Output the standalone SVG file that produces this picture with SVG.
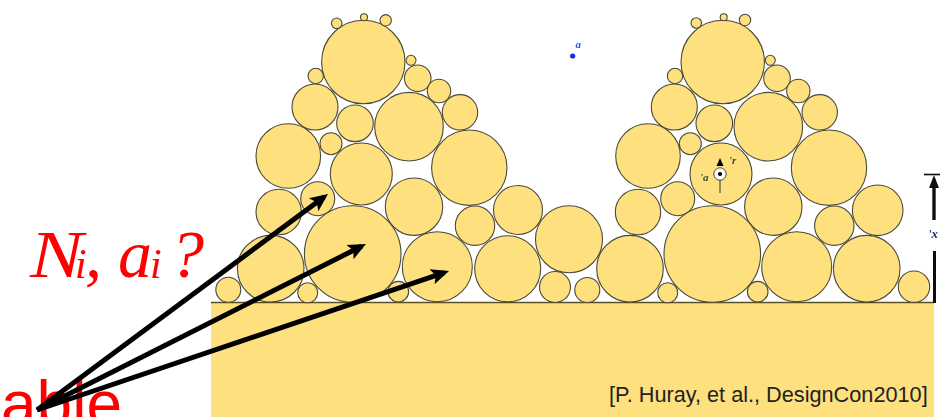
<svg xmlns="http://www.w3.org/2000/svg" width="949" height="417" viewBox="0 0 949 417">
<style>
.c circle{fill:#fee07f;stroke:#4a4a3a;stroke-width:1.1}
.red{font-family:"Liberation Serif","Times New Roman",serif;font-style:italic;fill:#ff0000}
.arr{stroke:#000;stroke-width:5;fill:none;marker-end:url(#h)}
.lab{font-family:"Liberation Serif",serif;font-style:italic;font-weight:bold}
</style>
<defs>
<marker id="h" markerUnits="userSpaceOnUse" markerWidth="24" markerHeight="22" refX="13" refY="11" orient="auto"><path d="M0,3 L18,11 L0,19 L4,11Z" fill="#000"/></marker>
<filter id="b" x="-2%" y="-2%" width="104%" height="104%"><feGaussianBlur stdDeviation="0.45"/></filter>
</defs>
<rect width="949" height="417" fill="#fff"/>
<g id="picture" filter="url(#b)">
<rect id="substrate" x="211" y="302.5" width="723" height="115" fill="#fee07f"/>
<line x1="211" y1="302.5" x2="934" y2="302.5" stroke="#5c5020" stroke-width="1.4"/>
<g id="left-cluster" class="c">
<circle cx="363.3" cy="62" r="41.7"/><circle cx="336.7" cy="23.3" r="5.3"/><circle cx="364" cy="17.3" r="3.5"/><circle cx="385.7" cy="20.3" r="5.7"/>
<circle cx="411" cy="60.3" r="5"/><circle cx="417.7" cy="78.3" r="13.3"/><circle cx="439" cy="91" r="11.7"/><circle cx="460" cy="112.3" r="17.7"/>
<circle cx="315.7" cy="76" r="7.7"/><circle cx="315" cy="107" r="23"/><circle cx="355" cy="123.3" r="18.3"/><circle cx="409" cy="126.7" r="34.3"/>
<circle cx="288.3" cy="156" r="32.3"/><circle cx="331" cy="143.7" r="11"/><circle cx="361.3" cy="174" r="31"/><circle cx="469.3" cy="167.7" r="37.7"/>
<circle cx="278.7" cy="212" r="22.7"/><circle cx="317.7" cy="198.7" r="17"/><circle cx="414" cy="206.7" r="28.7"/><circle cx="475" cy="225.7" r="19.7"/>
<circle cx="352.7" cy="254" r="48.3"/><circle cx="270.7" cy="268.7" r="33.3"/><circle cx="437.3" cy="266.7" r="35"/><circle cx="228.3" cy="289.7" r="12.5"/>
<circle cx="307.7" cy="292.7" r="10"/><circle cx="398.3" cy="291.7" r="10.3"/>
</g>
<g id="middle-cluster" class="c">
<circle cx="518" cy="210" r="24.5"/><circle cx="569" cy="239.3" r="33.5"/><circle cx="507.7" cy="268.7" r="33"/><circle cx="555" cy="287" r="15.5"/><circle cx="587.3" cy="290" r="12.5"/>
</g>
<g id="right-cluster" class="c">
<circle cx="722.7" cy="62" r="41.7"/><circle cx="696.3" cy="23" r="5.3"/><circle cx="723.7" cy="17.3" r="3.5"/><circle cx="745" cy="20" r="5.7"/>
<circle cx="770.3" cy="60.3" r="5"/><circle cx="777" cy="78.3" r="13.3"/><circle cx="798.3" cy="91" r="11.7"/><circle cx="819.7" cy="112.3" r="17.7"/>
<circle cx="675" cy="76" r="7.7"/><circle cx="674.3" cy="107" r="23"/><circle cx="714.3" cy="123.3" r="18.3"/><circle cx="768.3" cy="126.7" r="34.3"/>
<circle cx="648" cy="156" r="32.3"/><circle cx="690.3" cy="143.7" r="11"/><circle cx="721" cy="174" r="31"/><circle cx="829" cy="167.7" r="37.7"/>
<circle cx="638" cy="212" r="22.7"/><circle cx="677.7" cy="198.7" r="17"/><circle cx="773.3" cy="206.7" r="28.7"/><circle cx="834.3" cy="225.7" r="19.7"/><circle cx="877.7" cy="210.3" r="25.3"/>
<circle cx="712.3" cy="254" r="48.3"/><circle cx="630" cy="268.7" r="33.3"/><circle cx="796.7" cy="266.7" r="35"/><circle cx="866.7" cy="268.7" r="33.3"/><circle cx="914" cy="286.7" r="15.7"/>
<circle cx="667.7" cy="292.7" r="10"/><circle cx="757.7" cy="291.7" r="10.3"/>
</g>
<g id="center-mark">
<circle cx="720" cy="174" r="6.2" fill="#fff" stroke="#444" stroke-width="1"/>
<circle cx="720" cy="174" r="2.1" fill="#000"/>
<line x1="720" y1="180" x2="720" y2="193" stroke="#333" stroke-width="1"/>
<path d="M720,158 L723.5,166 L716.5,166Z" fill="#000"/>
<text class="lab" x="700" y="181" font-size="11" fill="#3a4a30">'a</text>
<text class="lab" x="729" y="164" font-size="11" fill="#3a4a30">'r</text>
</g>
<g id="height-mark">
<line x1="924" y1="174.5" x2="940" y2="174.5" stroke="#111" stroke-width="1.6"/>
<line x1="934" y1="184" x2="934" y2="220" stroke="#111" stroke-width="3.4"/>
<path d="M934,175 L939,188 L929,188Z" fill="#111"/>
<line x1="934.5" y1="251" x2="934.5" y2="303" stroke="#111" stroke-width="3"/>
<text class="lab" x="928" y="238" font-size="13" fill="#24386a">'x</text>
</g>
<g id="point-a">
<circle cx="572.7" cy="56" r="2.6" fill="#1030e0"/>
<text class="lab" x="575.5" y="48" font-size="11" fill="#2a50e0">a</text>
</g>
</g>
<text id="citation" x="609" y="402" font-family="'Liberation Sans',Arial,sans-serif" font-size="21.7" fill="#222">[P. Huray, et al., DesignCon2010]</text>
<g id="question">
<text class="red" x="30" y="276.5" font-size="68" textLength="53" lengthAdjust="spacingAndGlyphs">N</text>
<text class="red" x="75" y="278" font-size="42">i</text>
<text class="red" x="85" y="277" font-size="68">,</text>
<text class="red" x="118" y="277" font-size="68">a</text>
<text class="red" x="150" y="278" font-size="42">i</text>
<text class="red" x="170" y="277" font-size="68">?</text>
</g>
<text id="able" x="1" y="425.5" font-family="'Liberation Sans',Arial,sans-serif" font-size="64" fill="#ff0000">able</text>
<g id="connectors">
<line class="arr" x1="37" y1="410" x2="324" y2="197"/>
<line class="arr" x1="37" y1="410" x2="361.5" y2="246.3"/>
<line class="arr" x1="37" y1="410" x2="444.3" y2="272.6"/>
</g>
</svg>
